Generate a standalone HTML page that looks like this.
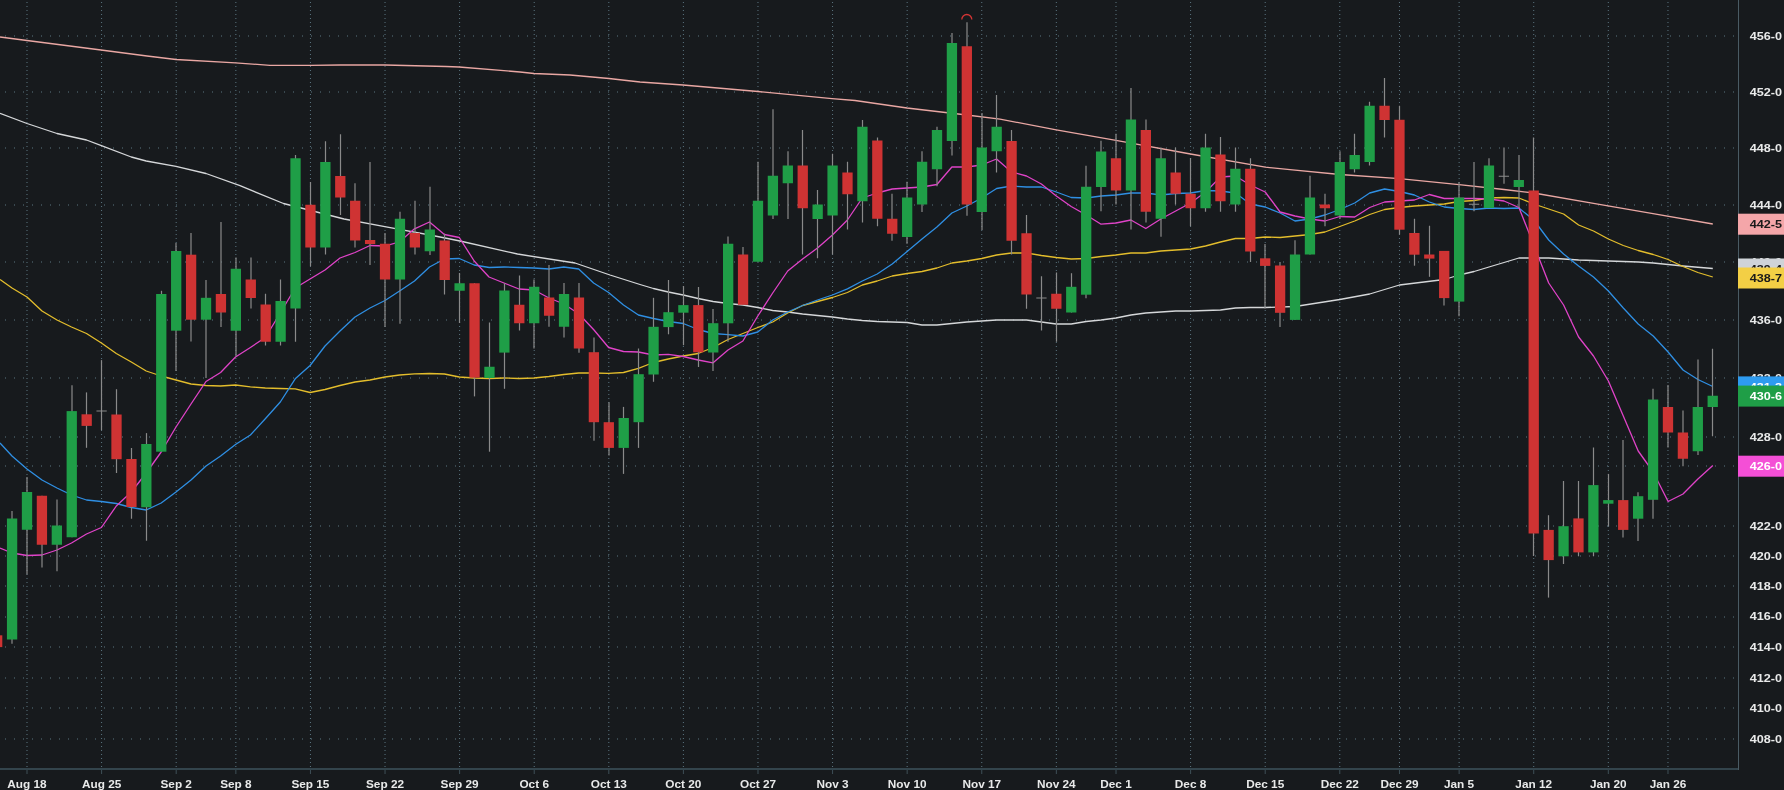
<!DOCTYPE html>
<html><head><meta charset="utf-8"><style>html,body{margin:0;padding:0;background:#171a1d;overflow:hidden}svg{display:block;will-change:transform}</style></head>
<body><svg width="1784" height="790" viewBox="0 0 1784 790">
<rect x="0" y="0" width="1784" height="790" fill="#171a1d"/>
<g><line x1="27.0" y1="2" x2="27.0" y2="768" stroke="#5c7682" stroke-width="1" stroke-dasharray="1 3"/><line x1="101.59" y1="2" x2="101.59" y2="768" stroke="#5c7682" stroke-width="1" stroke-dasharray="1 3"/><line x1="176.18" y1="2" x2="176.18" y2="768" stroke="#5c7682" stroke-width="1" stroke-dasharray="1 3"/><line x1="235.85" y1="2" x2="235.85" y2="768" stroke="#5c7682" stroke-width="1" stroke-dasharray="1 3"/><line x1="310.44" y1="2" x2="310.44" y2="768" stroke="#5c7682" stroke-width="1" stroke-dasharray="1 3"/><line x1="385.03" y1="2" x2="385.03" y2="768" stroke="#5c7682" stroke-width="1" stroke-dasharray="1 3"/><line x1="459.62" y1="2" x2="459.62" y2="768" stroke="#5c7682" stroke-width="1" stroke-dasharray="1 3"/><line x1="534.21" y1="2" x2="534.21" y2="768" stroke="#5c7682" stroke-width="1" stroke-dasharray="1 3"/><line x1="608.8" y1="2" x2="608.8" y2="768" stroke="#5c7682" stroke-width="1" stroke-dasharray="1 3"/><line x1="683.39" y1="2" x2="683.39" y2="768" stroke="#5c7682" stroke-width="1" stroke-dasharray="1 3"/><line x1="757.98" y1="2" x2="757.98" y2="768" stroke="#5c7682" stroke-width="1" stroke-dasharray="1 3"/><line x1="832.57" y1="2" x2="832.57" y2="768" stroke="#5c7682" stroke-width="1" stroke-dasharray="1 3"/><line x1="907.16" y1="2" x2="907.16" y2="768" stroke="#5c7682" stroke-width="1" stroke-dasharray="1 3"/><line x1="981.75" y1="2" x2="981.75" y2="768" stroke="#5c7682" stroke-width="1" stroke-dasharray="1 3"/><line x1="1056.34" y1="2" x2="1056.34" y2="768" stroke="#5c7682" stroke-width="1" stroke-dasharray="1 3"/><line x1="1116.01" y1="2" x2="1116.01" y2="768" stroke="#5c7682" stroke-width="1" stroke-dasharray="1 3"/><line x1="1190.6" y1="2" x2="1190.6" y2="768" stroke="#5c7682" stroke-width="1" stroke-dasharray="1 3"/><line x1="1265.19" y1="2" x2="1265.19" y2="768" stroke="#5c7682" stroke-width="1" stroke-dasharray="1 3"/><line x1="1339.78" y1="2" x2="1339.78" y2="768" stroke="#5c7682" stroke-width="1" stroke-dasharray="1 3"/><line x1="1399.46" y1="2" x2="1399.46" y2="768" stroke="#5c7682" stroke-width="1" stroke-dasharray="1 3"/><line x1="1459.13" y1="2" x2="1459.13" y2="768" stroke="#5c7682" stroke-width="1" stroke-dasharray="1 3"/><line x1="1533.72" y1="2" x2="1533.72" y2="768" stroke="#5c7682" stroke-width="1" stroke-dasharray="1 3"/><line x1="1608.31" y1="2" x2="1608.31" y2="768" stroke="#5c7682" stroke-width="1" stroke-dasharray="1 3"/><line x1="1667.98" y1="2" x2="1667.98" y2="768" stroke="#5c7682" stroke-width="1" stroke-dasharray="1 3"/><line x1="5" y1="36" x2="1738" y2="36" stroke="#5c7682" stroke-width="1" stroke-dasharray="1 8"/><line x1="5" y1="92" x2="1738" y2="92" stroke="#5c7682" stroke-width="1" stroke-dasharray="1 8"/><line x1="5" y1="148" x2="1738" y2="148" stroke="#5c7682" stroke-width="1" stroke-dasharray="1 8"/><line x1="5" y1="205" x2="1738" y2="205" stroke="#5c7682" stroke-width="1" stroke-dasharray="1 8"/><line x1="5" y1="262" x2="1738" y2="262" stroke="#5c7682" stroke-width="1" stroke-dasharray="1 8"/><line x1="5" y1="320" x2="1738" y2="320" stroke="#5c7682" stroke-width="1" stroke-dasharray="1 8"/><line x1="5" y1="378" x2="1738" y2="378" stroke="#5c7682" stroke-width="1" stroke-dasharray="1 8"/><line x1="5" y1="437" x2="1738" y2="437" stroke="#5c7682" stroke-width="1" stroke-dasharray="1 8"/><line x1="5" y1="466" x2="1738" y2="466" stroke="#5c7682" stroke-width="1" stroke-dasharray="1 8"/><line x1="5" y1="526" x2="1738" y2="526" stroke="#5c7682" stroke-width="1" stroke-dasharray="1 8"/><line x1="5" y1="556" x2="1738" y2="556" stroke="#5c7682" stroke-width="1" stroke-dasharray="1 8"/><line x1="5" y1="586" x2="1738" y2="586" stroke="#5c7682" stroke-width="1" stroke-dasharray="1 8"/><line x1="5" y1="617" x2="1738" y2="617" stroke="#5c7682" stroke-width="1" stroke-dasharray="1 8"/><line x1="5" y1="647" x2="1738" y2="647" stroke="#5c7682" stroke-width="1" stroke-dasharray="1 8"/><line x1="5" y1="678" x2="1738" y2="678" stroke="#5c7682" stroke-width="1" stroke-dasharray="1 8"/><line x1="5" y1="708" x2="1738" y2="708" stroke="#5c7682" stroke-width="1" stroke-dasharray="1 8"/><line x1="5" y1="739" x2="1738" y2="739" stroke="#5c7682" stroke-width="1" stroke-dasharray="1 8"/></g>
<polyline points="0.0,37.0 27.0,40.5 101.0,50.0 147.0,56.0 176.0,59.5 235.5,62.8 270.0,65.3 310.0,65.3 340.0,65.0 385.0,65.0 446.0,66.5 459.0,67.0 520.0,72.0 534.0,73.5 570.0,75.0 609.0,78.5 640.0,82.0 683.0,85.0 758.0,91.5 832.0,98.7 855.0,100.5 907.0,108.0 966.8,115.0 1000.0,119.2 1056.3,129.8 1116.0,140.4 1190.5,154.0 1265.3,167.2 1290.0,169.7 1340.0,174.5 1399.5,178.7 1459.0,184.7 1504.0,189.5 1533.8,193.0 1593.5,203.3 1653.0,213.6 1712.8,224.0" fill="none" stroke="#e9a7a3" stroke-width="1.3" stroke-linejoin="round"/>
<polyline points="0.0,113.3 27.0,123.5 57.0,133.5 86.5,140.0 101.4,145.7 131.3,157.0 146.2,161.0 176.0,166.3 206.0,173.5 240.0,185.7 283.5,203.5 344.0,219.0 384.8,226.6 432.5,235.5 460.0,241.0 517.5,254.0 575.0,263.0 610.0,275.0 640.0,284.5 653.4,288.5 668.3,292.0 683.2,295.0 698.1,298.5 713.1,301.5 728.0,303.5 742.9,305.0 757.8,307.5 772.7,310.5 787.7,312.0 802.6,314.0 817.5,315.5 832.4,317.0 847.4,319.0 862.3,320.5 877.2,321.5 907.1,322.5 922.0,325.0 936.9,325.0 966.8,322.0 996.6,320.0 1026.5,320.0 1041.4,322.0 1056.3,324.0 1071.2,324.0 1086.2,321.5 1101.1,320.0 1116.0,318.0 1130.9,315.0 1145.8,313.0 1160.8,312.0 1175.7,311.0 1190.6,311.0 1205.5,310.5 1220.5,310.0 1235.4,308.0 1250.3,307.5 1265.2,307.5 1295.0,306.5 1339.8,299.5 1369.7,294.0 1399.5,285.0 1444.3,279.5 1459.2,275.0 1474.1,271.5 1489.0,267.0 1504.0,262.5 1518.9,258.0 1548.7,258.0 1578.6,260.0 1608.4,261.0 1638.2,262.0 1653.2,263.0 1683.0,266.0 1712.8,268.5" fill="none" stroke="#d5d7d9" stroke-width="1.3" stroke-linejoin="round"/>
<polyline points="0.0,279.5 12.0,288.0 27.0,297.0 42.0,311.0 57.0,320.0 71.5,327.0 86.5,333.5 101.4,343.0 116.3,353.5 131.3,362.0 146.2,371.0 161.2,376.0 176.0,380.0 191.0,384.0 206.0,385.5 220.6,386.0 235.5,385.0 250.4,386.8 265.3,388.0 280.3,388.5 295.2,388.8 310.1,392.5 325.0,389.5 340.0,385.5 355.0,382.0 370.0,380.0 385.0,377.0 399.6,375.0 414.5,373.8 429.5,373.5 444.4,374.0 459.3,377.0 474.2,378.0 489.2,378.5 504.1,378.0 519.0,378.5 533.9,378.0 548.9,376.5 563.8,374.5 578.7,373.0 593.6,373.0 608.6,373.3 623.5,372.5 638.4,368.3 653.4,362.5 668.3,359.0 683.2,356.0 698.1,353.5 713.1,347.5 728.0,339.5 742.9,333.5 757.8,327.5 772.7,322.0 787.7,313.0 802.6,305.5 817.5,301.5 832.4,297.5 847.4,292.5 862.3,285.0 877.2,281.0 892.2,276.0 907.1,273.5 922.0,271.5 936.9,268.0 951.9,263.0 966.8,261.0 981.7,258.5 996.6,255.0 1011.5,253.0 1026.5,253.0 1041.4,255.5 1056.3,257.5 1071.2,259.0 1086.2,258.5 1101.1,256.5 1116.0,255.0 1130.9,253.0 1145.8,253.0 1160.8,251.0 1175.7,250.0 1190.6,249.0 1205.5,246.0 1220.5,242.0 1235.4,238.5 1250.3,238.5 1265.2,237.0 1280.1,237.5 1295.0,236.0 1310.0,234.5 1324.9,232.0 1339.8,226.5 1354.7,221.0 1369.7,214.5 1384.6,209.5 1399.5,207.5 1414.4,206.0 1429.3,205.0 1444.3,204.0 1459.2,201.5 1474.1,200.5 1489.0,198.0 1504.0,197.5 1518.9,198.0 1533.8,204.0 1548.7,209.0 1563.6,214.0 1578.6,225.0 1593.5,231.0 1608.4,239.0 1623.3,245.5 1638.2,250.5 1653.2,254.5 1668.1,259.5 1683.0,266.5 1697.9,272.5 1712.8,277.0" fill="none" stroke="#e3bd2c" stroke-width="1.3" stroke-linejoin="round"/>
<polyline points="0.0,443.0 12.0,456.0 27.0,469.0 42.0,480.0 57.0,488.0 71.5,495.0 86.5,500.0 101.4,501.5 116.3,503.5 131.3,507.5 146.2,510.0 161.2,503.0 176.0,492.0 191.0,480.0 206.0,466.0 220.6,456.0 235.5,444.5 250.4,435.0 265.3,418.8 280.3,402.0 295.2,378.8 310.1,365.5 325.0,346.0 340.0,331.0 355.0,317.0 370.0,308.0 385.0,300.5 399.6,291.0 414.5,281.0 429.5,267.0 444.4,259.0 459.3,258.5 474.2,265.0 489.2,267.5 504.1,267.0 519.0,267.5 533.9,268.0 548.9,269.0 563.8,267.0 578.7,269.0 593.6,283.0 608.6,292.5 623.5,305.0 638.4,315.0 653.4,318.5 668.3,321.5 683.2,323.5 698.1,329.5 713.1,333.5 728.0,334.7 742.9,336.0 757.8,332.0 772.7,320.0 787.7,312.0 802.6,305.5 817.5,300.0 832.4,295.0 847.4,288.8 862.3,281.0 877.2,274.0 892.2,264.0 907.1,251.5 922.0,239.0 936.9,227.0 951.9,213.0 966.8,206.0 981.7,198.0 996.6,188.5 1011.5,186.0 1026.5,187.0 1041.4,187.0 1056.3,192.0 1071.2,197.5 1086.2,198.0 1101.1,196.0 1116.0,195.0 1130.9,193.0 1145.8,193.0 1160.8,195.0 1175.7,193.5 1190.6,193.0 1205.5,190.5 1220.5,191.0 1235.4,193.0 1250.3,204.0 1265.2,207.0 1280.1,213.0 1295.0,221.0 1310.0,219.0 1324.9,215.0 1339.8,209.5 1354.7,203.0 1369.7,193.0 1384.6,189.0 1399.5,191.5 1414.4,195.0 1429.3,202.0 1444.3,207.0 1459.2,208.5 1474.1,209.5 1489.0,208.0 1504.0,208.5 1518.9,208.0 1533.8,220.0 1548.7,240.0 1563.6,254.0 1578.6,266.0 1593.5,277.0 1608.4,291.0 1623.3,308.0 1638.2,324.0 1653.2,336.0 1668.1,352.0 1683.0,370.0 1697.9,379.5 1712.8,386.5" fill="none" stroke="#2f8fe3" stroke-width="1.3" stroke-linejoin="round"/>
<polyline points="0.0,548.0 12.0,553.0 27.0,555.5 42.0,555.0 57.0,550.0 71.5,543.0 86.5,534.0 101.4,527.5 116.3,506.0 131.3,492.0 146.2,473.0 161.2,452.0 176.0,427.0 191.0,404.0 206.0,381.5 220.6,372.5 235.5,357.0 250.4,347.5 265.3,337.5 280.3,313.0 295.2,288.0 310.0,279.0 325.0,270.0 340.0,258.0 355.0,252.5 370.0,245.5 385.0,246.0 399.6,241.8 414.5,228.8 429.5,222.0 444.4,234.5 459.3,237.5 474.2,261.0 489.0,277.0 504.0,283.0 519.0,289.0 534.0,290.0 549.0,298.0 564.0,304.0 579.0,314.0 594.0,330.0 608.6,347.5 623.5,351.5 638.4,352.0 653.4,355.0 668.3,354.3 683.2,356.5 698.1,360.0 713.1,362.8 728.0,350.0 742.9,341.0 757.8,316.0 772.7,293.0 787.7,271.0 802.6,259.0 817.5,248.0 832.4,235.0 847.4,220.0 862.3,198.0 877.2,193.0 892.2,189.0 907.1,188.0 922.0,187.0 936.9,184.5 951.9,167.0 966.8,167.0 981.7,165.0 996.6,159.0 1011.5,172.0 1026.5,176.0 1041.4,184.0 1056.3,196.0 1071.2,206.5 1086.2,215.0 1101.1,224.2 1116.0,223.0 1130.9,220.0 1145.8,228.5 1160.8,219.0 1175.7,211.0 1190.6,203.0 1205.5,192.0 1220.5,177.0 1235.4,176.0 1250.3,185.0 1265.2,192.0 1280.1,212.0 1295.0,216.0 1310.0,219.0 1324.9,221.0 1339.8,216.5 1354.7,217.0 1369.7,207.5 1384.6,202.0 1399.5,201.0 1414.4,200.0 1429.3,194.5 1444.3,198.5 1459.2,198.5 1474.1,198.5 1489.0,199.0 1504.0,201.0 1518.9,207.5 1533.8,245.0 1548.7,283.0 1563.6,305.0 1578.6,337.0 1593.5,356.0 1608.4,381.0 1623.3,416.0 1638.2,451.0 1653.2,472.0 1668.1,501.5 1683.0,494.0 1697.9,479.0 1712.8,465.5" fill="none" stroke="#e043c8" stroke-width="1.3" stroke-linejoin="round"/>
<line x1="-3.0" y1="635.30" x2="-3.0" y2="647.10" stroke="#8a8a8a" stroke-width="1.2"/><rect x="-7.99" y="635.30" width="10.3" height="11.80" fill="#cf3333"/><line x1="12.0" y1="511.00" x2="12.0" y2="643.70" stroke="#8a8a8a" stroke-width="1.2"/><rect x="6.93" y="518.50" width="10.3" height="121.00" fill="#1f9e47"/><line x1="27.0" y1="477.00" x2="27.0" y2="574.50" stroke="#8a8a8a" stroke-width="1.2"/><rect x="21.85" y="492.00" width="10.3" height="37.75" fill="#1f9e47"/><line x1="42.0" y1="495.75" x2="42.0" y2="567.50" stroke="#8a8a8a" stroke-width="1.2"/><rect x="36.77" y="495.75" width="10.3" height="49.00" fill="#cf3333"/><line x1="57.0" y1="499.50" x2="57.0" y2="571.25" stroke="#8a8a8a" stroke-width="1.2"/><rect x="51.69" y="525.50" width="10.3" height="19.25" fill="#1f9e47"/><line x1="72.0" y1="385.20" x2="72.0" y2="537.25" stroke="#8a8a8a" stroke-width="1.2"/><rect x="66.60" y="411.10" width="10.3" height="126.15" fill="#1f9e47"/><line x1="86.5" y1="392.40" x2="86.5" y2="447.80" stroke="#8a8a8a" stroke-width="1.2"/><rect x="81.52" y="414.30" width="10.3" height="11.60" fill="#cf3333"/><line x1="101.5" y1="360.10" x2="101.5" y2="430.30" stroke="#8a8a8a" stroke-width="1.2"/><rect x="96.44" y="410.50" width="10.3" height="1.00" fill="#8a8a8a"/><line x1="116.5" y1="389.20" x2="116.5" y2="473.00" stroke="#8a8a8a" stroke-width="1.2"/><rect x="111.36" y="414.50" width="10.3" height="44.70" fill="#cf3333"/><line x1="131.5" y1="448.00" x2="131.5" y2="518.75" stroke="#8a8a8a" stroke-width="1.2"/><rect x="126.28" y="459.00" width="10.3" height="48.00" fill="#cf3333"/><line x1="146.5" y1="433.10" x2="146.5" y2="540.75" stroke="#8a8a8a" stroke-width="1.2"/><rect x="141.19" y="444.00" width="10.3" height="63.25" fill="#1f9e47"/><line x1="161.5" y1="290.80" x2="161.5" y2="451.70" stroke="#8a8a8a" stroke-width="1.2"/><rect x="156.11" y="294.00" width="10.3" height="157.70" fill="#1f9e47"/><line x1="176.0" y1="243.10" x2="176.0" y2="371.00" stroke="#8a8a8a" stroke-width="1.2"/><rect x="171.03" y="251.00" width="10.3" height="79.70" fill="#1f9e47"/><line x1="191.0" y1="232.90" x2="191.0" y2="341.50" stroke="#8a8a8a" stroke-width="1.2"/><rect x="185.95" y="254.70" width="10.3" height="65.00" fill="#cf3333"/><line x1="206.0" y1="280.00" x2="206.0" y2="377.90" stroke="#8a8a8a" stroke-width="1.2"/><rect x="200.87" y="297.80" width="10.3" height="21.90" fill="#1f9e47"/><line x1="221.0" y1="222.00" x2="221.0" y2="327.00" stroke="#8a8a8a" stroke-width="1.2"/><rect x="215.78" y="294.00" width="10.3" height="18.50" fill="#cf3333"/><line x1="236.0" y1="257.50" x2="236.0" y2="356.25" stroke="#8a8a8a" stroke-width="1.2"/><rect x="230.70" y="268.75" width="10.3" height="62.00" fill="#1f9e47"/><line x1="251.0" y1="257.50" x2="251.0" y2="308.50" stroke="#8a8a8a" stroke-width="1.2"/><rect x="245.62" y="279.50" width="10.3" height="18.50" fill="#cf3333"/><line x1="265.5" y1="293.75" x2="265.5" y2="345.50" stroke="#8a8a8a" stroke-width="1.2"/><rect x="260.54" y="304.50" width="10.3" height="37.25" fill="#cf3333"/><line x1="280.5" y1="279.50" x2="280.5" y2="345.50" stroke="#8a8a8a" stroke-width="1.2"/><rect x="275.46" y="301.00" width="10.3" height="40.75" fill="#1f9e47"/><line x1="295.5" y1="155.00" x2="295.5" y2="341.75" stroke="#8a8a8a" stroke-width="1.2"/><rect x="290.37" y="158.25" width="10.3" height="150.25" fill="#1f9e47"/><line x1="310.5" y1="182.00" x2="310.5" y2="266.25" stroke="#8a8a8a" stroke-width="1.2"/><rect x="305.29" y="204.75" width="10.3" height="42.75" fill="#cf3333"/><line x1="325.5" y1="141.25" x2="325.5" y2="254.50" stroke="#8a8a8a" stroke-width="1.2"/><rect x="320.21" y="162.00" width="10.3" height="85.50" fill="#1f9e47"/><line x1="340.5" y1="134.25" x2="340.5" y2="215.00" stroke="#8a8a8a" stroke-width="1.2"/><rect x="335.13" y="176.00" width="10.3" height="21.50" fill="#cf3333"/><line x1="355.0" y1="183.25" x2="355.0" y2="247.50" stroke="#8a8a8a" stroke-width="1.2"/><rect x="350.05" y="200.75" width="10.3" height="39.75" fill="#cf3333"/><line x1="370.0" y1="162.00" x2="370.0" y2="265.00" stroke="#8a8a8a" stroke-width="1.2"/><rect x="364.96" y="240.00" width="10.3" height="4.00" fill="#cf3333"/><line x1="385.0" y1="233.00" x2="385.0" y2="327.00" stroke="#8a8a8a" stroke-width="1.2"/><rect x="379.88" y="243.75" width="10.3" height="35.75" fill="#cf3333"/><line x1="400.0" y1="211.75" x2="400.0" y2="323.75" stroke="#8a8a8a" stroke-width="1.2"/><rect x="394.80" y="218.75" width="10.3" height="60.75" fill="#1f9e47"/><line x1="415.0" y1="200.75" x2="415.0" y2="254.50" stroke="#8a8a8a" stroke-width="1.2"/><rect x="409.72" y="233.00" width="10.3" height="14.50" fill="#cf3333"/><line x1="430.0" y1="186.75" x2="430.0" y2="255.00" stroke="#8a8a8a" stroke-width="1.2"/><rect x="424.64" y="229.50" width="10.3" height="21.75" fill="#1f9e47"/><line x1="444.5" y1="233.75" x2="444.5" y2="294.50" stroke="#8a8a8a" stroke-width="1.2"/><rect x="439.55" y="240.50" width="10.3" height="39.50" fill="#cf3333"/><line x1="459.5" y1="273.00" x2="459.5" y2="323.00" stroke="#8a8a8a" stroke-width="1.2"/><rect x="454.47" y="283.25" width="10.3" height="7.50" fill="#1f9e47"/><line x1="474.5" y1="283.25" x2="474.5" y2="396.40" stroke="#8a8a8a" stroke-width="1.2"/><rect x="469.39" y="283.25" width="10.3" height="94.35" fill="#cf3333"/><line x1="489.5" y1="322.50" x2="489.5" y2="451.70" stroke="#8a8a8a" stroke-width="1.2"/><rect x="484.31" y="366.75" width="10.3" height="11.25" fill="#1f9e47"/><line x1="504.5" y1="283.25" x2="504.5" y2="388.80" stroke="#8a8a8a" stroke-width="1.2"/><rect x="499.23" y="290.50" width="10.3" height="62.10" fill="#1f9e47"/><line x1="519.5" y1="275.50" x2="519.5" y2="330.50" stroke="#8a8a8a" stroke-width="1.2"/><rect x="514.14" y="304.75" width="10.3" height="18.50" fill="#cf3333"/><line x1="534.0" y1="279.50" x2="534.0" y2="348.40" stroke="#8a8a8a" stroke-width="1.2"/><rect x="529.06" y="286.75" width="10.3" height="36.50" fill="#1f9e47"/><line x1="549.0" y1="265.00" x2="549.0" y2="326.75" stroke="#8a8a8a" stroke-width="1.2"/><rect x="543.98" y="297.50" width="10.3" height="18.25" fill="#cf3333"/><line x1="564.0" y1="283.00" x2="564.0" y2="337.50" stroke="#8a8a8a" stroke-width="1.2"/><rect x="558.90" y="294.00" width="10.3" height="32.75" fill="#1f9e47"/><line x1="579.0" y1="283.00" x2="579.0" y2="352.70" stroke="#8a8a8a" stroke-width="1.2"/><rect x="573.82" y="297.50" width="10.3" height="51.00" fill="#cf3333"/><line x1="594.0" y1="337.50" x2="594.0" y2="440.70" stroke="#8a8a8a" stroke-width="1.2"/><rect x="588.73" y="352.20" width="10.3" height="70.00" fill="#cf3333"/><line x1="609.0" y1="402.30" x2="609.0" y2="455.50" stroke="#8a8a8a" stroke-width="1.2"/><rect x="603.65" y="422.20" width="10.3" height="25.70" fill="#cf3333"/><line x1="623.5" y1="406.90" x2="623.5" y2="473.90" stroke="#8a8a8a" stroke-width="1.2"/><rect x="618.57" y="418.00" width="10.3" height="29.90" fill="#1f9e47"/><line x1="638.5" y1="348.50" x2="638.5" y2="447.90" stroke="#8a8a8a" stroke-width="1.2"/><rect x="633.49" y="374.20" width="10.3" height="48.00" fill="#1f9e47"/><line x1="653.5" y1="297.80" x2="653.5" y2="381.80" stroke="#8a8a8a" stroke-width="1.2"/><rect x="648.41" y="326.80" width="10.3" height="47.70" fill="#1f9e47"/><line x1="668.5" y1="280.00" x2="668.5" y2="334.30" stroke="#8a8a8a" stroke-width="1.2"/><rect x="663.32" y="312.20" width="10.3" height="14.90" fill="#1f9e47"/><line x1="683.5" y1="286.00" x2="683.5" y2="345.20" stroke="#8a8a8a" stroke-width="1.2"/><rect x="678.24" y="305.10" width="10.3" height="7.60" fill="#1f9e47"/><line x1="698.5" y1="287.00" x2="698.5" y2="367.00" stroke="#8a8a8a" stroke-width="1.2"/><rect x="693.16" y="305.10" width="10.3" height="47.20" fill="#cf3333"/><line x1="713.0" y1="309.00" x2="713.0" y2="370.90" stroke="#8a8a8a" stroke-width="1.2"/><rect x="708.08" y="323.20" width="10.3" height="29.30" fill="#1f9e47"/><line x1="728.0" y1="236.50" x2="728.0" y2="341.70" stroke="#8a8a8a" stroke-width="1.2"/><rect x="723.00" y="243.75" width="10.3" height="79.55" fill="#1f9e47"/><line x1="743.0" y1="247.00" x2="743.0" y2="304.80" stroke="#8a8a8a" stroke-width="1.2"/><rect x="737.91" y="254.50" width="10.3" height="50.30" fill="#cf3333"/><line x1="758.0" y1="161.75" x2="758.0" y2="261.75" stroke="#8a8a8a" stroke-width="1.2"/><rect x="752.83" y="200.75" width="10.3" height="61.00" fill="#1f9e47"/><line x1="773.0" y1="109.25" x2="773.0" y2="219.00" stroke="#8a8a8a" stroke-width="1.2"/><rect x="767.75" y="175.75" width="10.3" height="39.75" fill="#1f9e47"/><line x1="788.0" y1="151.25" x2="788.0" y2="219.00" stroke="#8a8a8a" stroke-width="1.2"/><rect x="782.67" y="165.50" width="10.3" height="17.75" fill="#1f9e47"/><line x1="802.5" y1="130.00" x2="802.5" y2="254.50" stroke="#8a8a8a" stroke-width="1.2"/><rect x="797.59" y="165.50" width="10.3" height="42.75" fill="#cf3333"/><line x1="817.5" y1="190.00" x2="817.5" y2="258.25" stroke="#8a8a8a" stroke-width="1.2"/><rect x="812.50" y="204.50" width="10.3" height="14.50" fill="#1f9e47"/><line x1="832.5" y1="153.75" x2="832.5" y2="254.50" stroke="#8a8a8a" stroke-width="1.2"/><rect x="827.42" y="165.50" width="10.3" height="50.00" fill="#1f9e47"/><line x1="847.5" y1="161.75" x2="847.5" y2="229.50" stroke="#8a8a8a" stroke-width="1.2"/><rect x="842.34" y="172.50" width="10.3" height="21.75" fill="#cf3333"/><line x1="862.5" y1="120.00" x2="862.5" y2="222.50" stroke="#8a8a8a" stroke-width="1.2"/><rect x="857.26" y="126.75" width="10.3" height="74.50" fill="#1f9e47"/><line x1="877.5" y1="137.50" x2="877.5" y2="226.25" stroke="#8a8a8a" stroke-width="1.2"/><rect x="872.18" y="140.50" width="10.3" height="78.25" fill="#cf3333"/><line x1="892.0" y1="193.75" x2="892.0" y2="240.75" stroke="#8a8a8a" stroke-width="1.2"/><rect x="887.09" y="218.75" width="10.3" height="15.00" fill="#cf3333"/><line x1="907.0" y1="181.75" x2="907.0" y2="243.75" stroke="#8a8a8a" stroke-width="1.2"/><rect x="902.01" y="197.50" width="10.3" height="39.50" fill="#1f9e47"/><line x1="922.0" y1="151.25" x2="922.0" y2="212.00" stroke="#8a8a8a" stroke-width="1.2"/><rect x="916.93" y="161.75" width="10.3" height="42.75" fill="#1f9e47"/><line x1="937.0" y1="126.75" x2="937.0" y2="186.25" stroke="#8a8a8a" stroke-width="1.2"/><rect x="931.85" y="130.00" width="10.3" height="39.25" fill="#1f9e47"/><line x1="952.0" y1="33.00" x2="952.0" y2="155.50" stroke="#8a8a8a" stroke-width="1.2"/><rect x="946.77" y="43.00" width="10.3" height="98.00" fill="#1f9e47"/><line x1="967.0" y1="22.25" x2="967.0" y2="215.75" stroke="#8a8a8a" stroke-width="1.2"/><rect x="961.68" y="46.25" width="10.3" height="158.25" fill="#cf3333"/><line x1="982.0" y1="113.00" x2="982.0" y2="230.00" stroke="#8a8a8a" stroke-width="1.2"/><rect x="976.60" y="147.50" width="10.3" height="64.50" fill="#1f9e47"/><line x1="996.5" y1="95.00" x2="996.5" y2="172.50" stroke="#8a8a8a" stroke-width="1.2"/><rect x="991.52" y="126.75" width="10.3" height="24.50" fill="#1f9e47"/><line x1="1011.5" y1="130.00" x2="1011.5" y2="254.50" stroke="#8a8a8a" stroke-width="1.2"/><rect x="1006.44" y="141.00" width="10.3" height="99.75" fill="#cf3333"/><line x1="1026.5" y1="215.00" x2="1026.5" y2="308.75" stroke="#8a8a8a" stroke-width="1.2"/><rect x="1021.36" y="233.25" width="10.3" height="61.25" fill="#cf3333"/><line x1="1041.5" y1="276.25" x2="1041.5" y2="330.50" stroke="#8a8a8a" stroke-width="1.2"/><rect x="1036.27" y="297.50" width="10.3" height="1.00" fill="#8a8a8a"/><line x1="1056.5" y1="272.50" x2="1056.5" y2="341.75" stroke="#8a8a8a" stroke-width="1.2"/><rect x="1051.19" y="293.75" width="10.3" height="15.00" fill="#cf3333"/><line x1="1071.5" y1="273.20" x2="1071.5" y2="312.50" stroke="#8a8a8a" stroke-width="1.2"/><rect x="1066.11" y="286.80" width="10.3" height="25.70" fill="#1f9e47"/><line x1="1086.0" y1="165.75" x2="1086.0" y2="298.20" stroke="#8a8a8a" stroke-width="1.2"/><rect x="1081.03" y="186.75" width="10.3" height="107.95" fill="#1f9e47"/><line x1="1101.0" y1="140.75" x2="1101.0" y2="211.25" stroke="#8a8a8a" stroke-width="1.2"/><rect x="1095.95" y="151.50" width="10.3" height="35.50" fill="#1f9e47"/><line x1="1116.0" y1="133.75" x2="1116.0" y2="204.50" stroke="#8a8a8a" stroke-width="1.2"/><rect x="1110.86" y="158.25" width="10.3" height="32.25" fill="#cf3333"/><line x1="1131.0" y1="88.00" x2="1131.0" y2="229.50" stroke="#8a8a8a" stroke-width="1.2"/><rect x="1125.78" y="119.50" width="10.3" height="71.00" fill="#1f9e47"/><line x1="1146.0" y1="119.50" x2="1146.0" y2="222.50" stroke="#8a8a8a" stroke-width="1.2"/><rect x="1140.70" y="130.00" width="10.3" height="81.75" fill="#cf3333"/><line x1="1161.0" y1="147.50" x2="1161.0" y2="236.75" stroke="#8a8a8a" stroke-width="1.2"/><rect x="1155.62" y="158.25" width="10.3" height="60.50" fill="#1f9e47"/><line x1="1175.5" y1="147.50" x2="1175.5" y2="204.50" stroke="#8a8a8a" stroke-width="1.2"/><rect x="1170.54" y="172.50" width="10.3" height="21.25" fill="#cf3333"/><line x1="1190.5" y1="158.00" x2="1190.5" y2="226.25" stroke="#8a8a8a" stroke-width="1.2"/><rect x="1185.45" y="193.75" width="10.3" height="14.50" fill="#cf3333"/><line x1="1205.5" y1="133.75" x2="1205.5" y2="211.75" stroke="#8a8a8a" stroke-width="1.2"/><rect x="1200.37" y="147.50" width="10.3" height="60.75" fill="#1f9e47"/><line x1="1220.5" y1="137.00" x2="1220.5" y2="211.75" stroke="#8a8a8a" stroke-width="1.2"/><rect x="1215.29" y="154.50" width="10.3" height="46.75" fill="#cf3333"/><line x1="1235.5" y1="147.50" x2="1235.5" y2="211.75" stroke="#8a8a8a" stroke-width="1.2"/><rect x="1230.21" y="168.75" width="10.3" height="35.75" fill="#1f9e47"/><line x1="1250.5" y1="158.25" x2="1250.5" y2="262.00" stroke="#8a8a8a" stroke-width="1.2"/><rect x="1245.13" y="168.75" width="10.3" height="82.75" fill="#cf3333"/><line x1="1265.0" y1="243.90" x2="1265.0" y2="308.60" stroke="#8a8a8a" stroke-width="1.2"/><rect x="1260.04" y="258.30" width="10.3" height="7.60" fill="#cf3333"/><line x1="1280.0" y1="262.00" x2="1280.0" y2="327.00" stroke="#8a8a8a" stroke-width="1.2"/><rect x="1274.96" y="265.50" width="10.3" height="47.30" fill="#cf3333"/><line x1="1295.0" y1="240.20" x2="1295.0" y2="319.90" stroke="#8a8a8a" stroke-width="1.2"/><rect x="1289.88" y="254.50" width="10.3" height="65.40" fill="#1f9e47"/><line x1="1310.0" y1="175.75" x2="1310.0" y2="254.50" stroke="#8a8a8a" stroke-width="1.2"/><rect x="1304.80" y="197.50" width="10.3" height="57.00" fill="#1f9e47"/><line x1="1325.0" y1="193.75" x2="1325.0" y2="226.25" stroke="#8a8a8a" stroke-width="1.2"/><rect x="1319.72" y="204.50" width="10.3" height="3.75" fill="#cf3333"/><line x1="1340.0" y1="151.25" x2="1340.0" y2="218.75" stroke="#8a8a8a" stroke-width="1.2"/><rect x="1334.63" y="162.00" width="10.3" height="53.50" fill="#1f9e47"/><line x1="1354.5" y1="133.75" x2="1354.5" y2="172.50" stroke="#8a8a8a" stroke-width="1.2"/><rect x="1349.55" y="155.00" width="10.3" height="14.25" fill="#1f9e47"/><line x1="1369.5" y1="101.75" x2="1369.5" y2="165.50" stroke="#8a8a8a" stroke-width="1.2"/><rect x="1364.47" y="105.75" width="10.3" height="56.25" fill="#1f9e47"/><line x1="1384.5" y1="78.00" x2="1384.5" y2="137.50" stroke="#8a8a8a" stroke-width="1.2"/><rect x="1379.39" y="105.75" width="10.3" height="14.25" fill="#cf3333"/><line x1="1399.5" y1="105.75" x2="1399.5" y2="234.60" stroke="#8a8a8a" stroke-width="1.2"/><rect x="1394.31" y="119.75" width="10.3" height="109.95" fill="#cf3333"/><line x1="1414.5" y1="218.75" x2="1414.5" y2="265.70" stroke="#8a8a8a" stroke-width="1.2"/><rect x="1409.22" y="233.00" width="10.3" height="21.70" fill="#cf3333"/><line x1="1429.5" y1="225.75" x2="1429.5" y2="276.80" stroke="#8a8a8a" stroke-width="1.2"/><rect x="1424.14" y="254.50" width="10.3" height="4.10" fill="#cf3333"/><line x1="1444.0" y1="250.90" x2="1444.0" y2="305.50" stroke="#8a8a8a" stroke-width="1.2"/><rect x="1439.06" y="250.90" width="10.3" height="47.20" fill="#cf3333"/><line x1="1459.0" y1="182.00" x2="1459.0" y2="316.20" stroke="#8a8a8a" stroke-width="1.2"/><rect x="1453.98" y="197.50" width="10.3" height="104.10" fill="#1f9e47"/><line x1="1474.0" y1="162.00" x2="1474.0" y2="211.25" stroke="#8a8a8a" stroke-width="1.2"/><rect x="1468.90" y="203.75" width="10.3" height="1.00" fill="#8a8a8a"/><line x1="1489.0" y1="158.25" x2="1489.0" y2="208.00" stroke="#8a8a8a" stroke-width="1.2"/><rect x="1483.81" y="165.50" width="10.3" height="42.50" fill="#1f9e47"/><line x1="1504.0" y1="147.50" x2="1504.0" y2="183.75" stroke="#8a8a8a" stroke-width="1.2"/><rect x="1498.73" y="175.75" width="10.3" height="1.00" fill="#8a8a8a"/><line x1="1519.0" y1="155.00" x2="1519.0" y2="208.00" stroke="#8a8a8a" stroke-width="1.2"/><rect x="1513.65" y="180.00" width="10.3" height="7.00" fill="#1f9e47"/><line x1="1533.5" y1="137.50" x2="1533.5" y2="556.00" stroke="#8a8a8a" stroke-width="1.2"/><rect x="1528.57" y="190.50" width="10.3" height="343.00" fill="#cf3333"/><line x1="1548.5" y1="515.20" x2="1548.5" y2="597.60" stroke="#8a8a8a" stroke-width="1.2"/><rect x="1543.49" y="529.90" width="10.3" height="30.20" fill="#cf3333"/><line x1="1563.5" y1="481.00" x2="1563.5" y2="564.00" stroke="#8a8a8a" stroke-width="1.2"/><rect x="1558.40" y="526.20" width="10.3" height="30.10" fill="#1f9e47"/><line x1="1578.5" y1="481.00" x2="1578.5" y2="556.30" stroke="#8a8a8a" stroke-width="1.2"/><rect x="1573.32" y="518.40" width="10.3" height="34.00" fill="#cf3333"/><line x1="1593.5" y1="447.50" x2="1593.5" y2="556.30" stroke="#8a8a8a" stroke-width="1.2"/><rect x="1588.24" y="485.10" width="10.3" height="67.30" fill="#1f9e47"/><line x1="1608.5" y1="473.90" x2="1608.5" y2="526.40" stroke="#8a8a8a" stroke-width="1.2"/><rect x="1603.16" y="500.10" width="10.3" height="3.60" fill="#1f9e47"/><line x1="1623.0" y1="440.00" x2="1623.0" y2="537.40" stroke="#8a8a8a" stroke-width="1.2"/><rect x="1618.08" y="500.10" width="10.3" height="29.80" fill="#cf3333"/><line x1="1638.0" y1="492.20" x2="1638.0" y2="540.90" stroke="#8a8a8a" stroke-width="1.2"/><rect x="1632.99" y="496.20" width="10.3" height="22.50" fill="#1f9e47"/><line x1="1653.0" y1="388.75" x2="1653.0" y2="518.70" stroke="#8a8a8a" stroke-width="1.2"/><rect x="1647.91" y="399.50" width="10.3" height="100.30" fill="#1f9e47"/><line x1="1668.0" y1="385.00" x2="1668.0" y2="447.50" stroke="#8a8a8a" stroke-width="1.2"/><rect x="1662.83" y="407.00" width="10.3" height="25.50" fill="#cf3333"/><line x1="1683.0" y1="410.50" x2="1683.0" y2="466.25" stroke="#8a8a8a" stroke-width="1.2"/><rect x="1677.75" y="432.50" width="10.3" height="26.25" fill="#cf3333"/><line x1="1698.0" y1="359.50" x2="1698.0" y2="455.00" stroke="#8a8a8a" stroke-width="1.2"/><rect x="1692.67" y="407.00" width="10.3" height="44.25" fill="#1f9e47"/><line x1="1712.5" y1="348.75" x2="1712.5" y2="436.25" stroke="#8a8a8a" stroke-width="1.2"/><rect x="1707.58" y="395.75" width="10.3" height="11.25" fill="#1f9e47"/>
<path d="M 961.8 19.5 A 5 5 0 0 1 971.8 19.5" fill="none" stroke="#d43535" stroke-width="1.3"/>
<g>
<rect x="0" y="768" width="1738" height="2" fill="#33444c"/>
<rect x="1738" y="0" width="1" height="770" fill="#4a5b64"/>
<rect x="26.50" y="770" width="1" height="4" fill="#3e4f57"/>
<rect x="101.09" y="770" width="1" height="4" fill="#3e4f57"/>
<rect x="175.68" y="770" width="1" height="4" fill="#3e4f57"/>
<rect x="235.35" y="770" width="1" height="4" fill="#3e4f57"/>
<rect x="309.94" y="770" width="1" height="4" fill="#3e4f57"/>
<rect x="384.53" y="770" width="1" height="4" fill="#3e4f57"/>
<rect x="459.12" y="770" width="1" height="4" fill="#3e4f57"/>
<rect x="533.71" y="770" width="1" height="4" fill="#3e4f57"/>
<rect x="608.30" y="770" width="1" height="4" fill="#3e4f57"/>
<rect x="682.89" y="770" width="1" height="4" fill="#3e4f57"/>
<rect x="757.48" y="770" width="1" height="4" fill="#3e4f57"/>
<rect x="832.07" y="770" width="1" height="4" fill="#3e4f57"/>
<rect x="906.66" y="770" width="1" height="4" fill="#3e4f57"/>
<rect x="981.25" y="770" width="1" height="4" fill="#3e4f57"/>
<rect x="1055.84" y="770" width="1" height="4" fill="#3e4f57"/>
<rect x="1115.51" y="770" width="1" height="4" fill="#3e4f57"/>
<rect x="1190.10" y="770" width="1" height="4" fill="#3e4f57"/>
<rect x="1264.69" y="770" width="1" height="4" fill="#3e4f57"/>
<rect x="1339.28" y="770" width="1" height="4" fill="#3e4f57"/>
<rect x="1398.96" y="770" width="1" height="4" fill="#3e4f57"/>
<rect x="1458.63" y="770" width="1" height="4" fill="#3e4f57"/>
<rect x="1533.22" y="770" width="1" height="4" fill="#3e4f57"/>
<rect x="1607.81" y="770" width="1" height="4" fill="#3e4f57"/>
<rect x="1667.48" y="770" width="1" height="4" fill="#3e4f57"/>
</g>
<text x="27.0" y="788" font-family="Liberation Sans, sans-serif" font-weight="bold" font-size="11.8" fill="#e9eaea" text-anchor="middle">Aug 18</text>
<text x="101.6" y="788" font-family="Liberation Sans, sans-serif" font-weight="bold" font-size="11.8" fill="#e9eaea" text-anchor="middle">Aug 25</text>
<text x="176.2" y="788" font-family="Liberation Sans, sans-serif" font-weight="bold" font-size="11.8" fill="#e9eaea" text-anchor="middle">Sep 2</text>
<text x="235.9" y="788" font-family="Liberation Sans, sans-serif" font-weight="bold" font-size="11.8" fill="#e9eaea" text-anchor="middle">Sep 8</text>
<text x="310.4" y="788" font-family="Liberation Sans, sans-serif" font-weight="bold" font-size="11.8" fill="#e9eaea" text-anchor="middle">Sep 15</text>
<text x="385.0" y="788" font-family="Liberation Sans, sans-serif" font-weight="bold" font-size="11.8" fill="#e9eaea" text-anchor="middle">Sep 22</text>
<text x="459.6" y="788" font-family="Liberation Sans, sans-serif" font-weight="bold" font-size="11.8" fill="#e9eaea" text-anchor="middle">Sep 29</text>
<text x="534.2" y="788" font-family="Liberation Sans, sans-serif" font-weight="bold" font-size="11.8" fill="#e9eaea" text-anchor="middle">Oct 6</text>
<text x="608.8" y="788" font-family="Liberation Sans, sans-serif" font-weight="bold" font-size="11.8" fill="#e9eaea" text-anchor="middle">Oct 13</text>
<text x="683.4" y="788" font-family="Liberation Sans, sans-serif" font-weight="bold" font-size="11.8" fill="#e9eaea" text-anchor="middle">Oct 20</text>
<text x="758.0" y="788" font-family="Liberation Sans, sans-serif" font-weight="bold" font-size="11.8" fill="#e9eaea" text-anchor="middle">Oct 27</text>
<text x="832.6" y="788" font-family="Liberation Sans, sans-serif" font-weight="bold" font-size="11.8" fill="#e9eaea" text-anchor="middle">Nov 3</text>
<text x="907.2" y="788" font-family="Liberation Sans, sans-serif" font-weight="bold" font-size="11.8" fill="#e9eaea" text-anchor="middle">Nov 10</text>
<text x="981.8" y="788" font-family="Liberation Sans, sans-serif" font-weight="bold" font-size="11.8" fill="#e9eaea" text-anchor="middle">Nov 17</text>
<text x="1056.3" y="788" font-family="Liberation Sans, sans-serif" font-weight="bold" font-size="11.8" fill="#e9eaea" text-anchor="middle">Nov 24</text>
<text x="1116.0" y="788" font-family="Liberation Sans, sans-serif" font-weight="bold" font-size="11.8" fill="#e9eaea" text-anchor="middle">Dec 1</text>
<text x="1190.6" y="788" font-family="Liberation Sans, sans-serif" font-weight="bold" font-size="11.8" fill="#e9eaea" text-anchor="middle">Dec 8</text>
<text x="1265.2" y="788" font-family="Liberation Sans, sans-serif" font-weight="bold" font-size="11.8" fill="#e9eaea" text-anchor="middle">Dec 15</text>
<text x="1339.8" y="788" font-family="Liberation Sans, sans-serif" font-weight="bold" font-size="11.8" fill="#e9eaea" text-anchor="middle">Dec 22</text>
<text x="1399.5" y="788" font-family="Liberation Sans, sans-serif" font-weight="bold" font-size="11.8" fill="#e9eaea" text-anchor="middle">Dec 29</text>
<text x="1459.1" y="788" font-family="Liberation Sans, sans-serif" font-weight="bold" font-size="11.8" fill="#e9eaea" text-anchor="middle">Jan 5</text>
<text x="1533.7" y="788" font-family="Liberation Sans, sans-serif" font-weight="bold" font-size="11.8" fill="#e9eaea" text-anchor="middle">Jan 12</text>
<text x="1608.3" y="788" font-family="Liberation Sans, sans-serif" font-weight="bold" font-size="11.8" fill="#e9eaea" text-anchor="middle">Jan 20</text>
<text x="1668.0" y="788" font-family="Liberation Sans, sans-serif" font-weight="bold" font-size="11.8" fill="#e9eaea" text-anchor="middle">Jan 26</text>
<text x="1782" y="40.1" font-family="Liberation Sans, sans-serif" font-weight="bold" font-size="11.8" fill="#e9eaea" text-anchor="end" textLength="32.3" lengthAdjust="spacingAndGlyphs">456-0</text>
<text x="1782" y="95.8" font-family="Liberation Sans, sans-serif" font-weight="bold" font-size="11.8" fill="#e9eaea" text-anchor="end" textLength="32.3" lengthAdjust="spacingAndGlyphs">452-0</text>
<text x="1782" y="152.0" font-family="Liberation Sans, sans-serif" font-weight="bold" font-size="11.8" fill="#e9eaea" text-anchor="end" textLength="32.3" lengthAdjust="spacingAndGlyphs">448-0</text>
<text x="1782" y="208.7" font-family="Liberation Sans, sans-serif" font-weight="bold" font-size="11.8" fill="#e9eaea" text-anchor="end" textLength="32.3" lengthAdjust="spacingAndGlyphs">444-0</text>
<text x="1782" y="265.9" font-family="Liberation Sans, sans-serif" font-weight="bold" font-size="11.8" fill="#e9eaea" text-anchor="end" textLength="32.3" lengthAdjust="spacingAndGlyphs">440-0</text>
<text x="1782" y="323.6" font-family="Liberation Sans, sans-serif" font-weight="bold" font-size="11.8" fill="#e9eaea" text-anchor="end" textLength="32.3" lengthAdjust="spacingAndGlyphs">436-0</text>
<text x="1782" y="381.9" font-family="Liberation Sans, sans-serif" font-weight="bold" font-size="11.8" fill="#e9eaea" text-anchor="end" textLength="32.3" lengthAdjust="spacingAndGlyphs">432-0</text>
<text x="1782" y="440.7" font-family="Liberation Sans, sans-serif" font-weight="bold" font-size="11.8" fill="#e9eaea" text-anchor="end" textLength="32.3" lengthAdjust="spacingAndGlyphs">428-0</text>
<text x="1782" y="470.3" font-family="Liberation Sans, sans-serif" font-weight="bold" font-size="11.8" fill="#e9eaea" text-anchor="end" textLength="32.3" lengthAdjust="spacingAndGlyphs">426-0</text>
<text x="1782" y="529.9" font-family="Liberation Sans, sans-serif" font-weight="bold" font-size="11.8" fill="#e9eaea" text-anchor="end" textLength="32.3" lengthAdjust="spacingAndGlyphs">422-0</text>
<text x="1782" y="559.9" font-family="Liberation Sans, sans-serif" font-weight="bold" font-size="11.8" fill="#e9eaea" text-anchor="end" textLength="32.3" lengthAdjust="spacingAndGlyphs">420-0</text>
<text x="1782" y="590.1" font-family="Liberation Sans, sans-serif" font-weight="bold" font-size="11.8" fill="#e9eaea" text-anchor="end" textLength="32.3" lengthAdjust="spacingAndGlyphs">418-0</text>
<text x="1782" y="620.4" font-family="Liberation Sans, sans-serif" font-weight="bold" font-size="11.8" fill="#e9eaea" text-anchor="end" textLength="32.3" lengthAdjust="spacingAndGlyphs">416-0</text>
<text x="1782" y="650.9" font-family="Liberation Sans, sans-serif" font-weight="bold" font-size="11.8" fill="#e9eaea" text-anchor="end" textLength="32.3" lengthAdjust="spacingAndGlyphs">414-0</text>
<text x="1782" y="681.5" font-family="Liberation Sans, sans-serif" font-weight="bold" font-size="11.8" fill="#e9eaea" text-anchor="end" textLength="32.3" lengthAdjust="spacingAndGlyphs">412-0</text>
<text x="1782" y="712.2" font-family="Liberation Sans, sans-serif" font-weight="bold" font-size="11.8" fill="#e9eaea" text-anchor="end" textLength="32.3" lengthAdjust="spacingAndGlyphs">410-0</text>
<text x="1782" y="743.2" font-family="Liberation Sans, sans-serif" font-weight="bold" font-size="11.8" fill="#e9eaea" text-anchor="end" textLength="32.3" lengthAdjust="spacingAndGlyphs">408-0</text>
<rect x="1738" y="213.7" width="46" height="21" fill="#f4a6a9"/><text x="1782" y="228.3" font-family="Liberation Sans, sans-serif" font-weight="bold" font-size="11.8" fill="#1a1a1a" text-anchor="end" textLength="32.3" lengthAdjust="spacingAndGlyphs">442-5</text>
<rect x="1738" y="258.5" width="46" height="21" fill="#cfd3d8"/><text x="1782" y="273.1" font-family="Liberation Sans, sans-serif" font-weight="bold" font-size="11.8" fill="#1a1a1a" text-anchor="end" textLength="32.3" lengthAdjust="spacingAndGlyphs">439-4</text>
<rect x="1738" y="267.5" width="46" height="21" fill="#f3cf45"/><text x="1782" y="282.1" font-family="Liberation Sans, sans-serif" font-weight="bold" font-size="11.8" fill="#1a1a1a" text-anchor="end" textLength="32.3" lengthAdjust="spacingAndGlyphs">438-7</text>
<rect x="1738" y="376.4" width="46" height="21" fill="#2e9bf0"/><text x="1782" y="391.0" font-family="Liberation Sans, sans-serif" font-weight="bold" font-size="11.8" fill="#ffffff" text-anchor="end" textLength="32.3" lengthAdjust="spacingAndGlyphs">431-3</text>
<rect x="1738" y="385.6" width="46" height="21" fill="#1f9e47"/><text x="1782" y="400.2" font-family="Liberation Sans, sans-serif" font-weight="bold" font-size="11.8" fill="#ffffff" text-anchor="end" textLength="32.3" lengthAdjust="spacingAndGlyphs">430-6</text>
<rect x="1738" y="455.7" width="46" height="21" fill="#f44fd6"/><text x="1782" y="470.3" font-family="Liberation Sans, sans-serif" font-weight="bold" font-size="11.8" fill="#ffffff" text-anchor="end" textLength="32.3" lengthAdjust="spacingAndGlyphs">426-0</text>
</svg></body></html>
